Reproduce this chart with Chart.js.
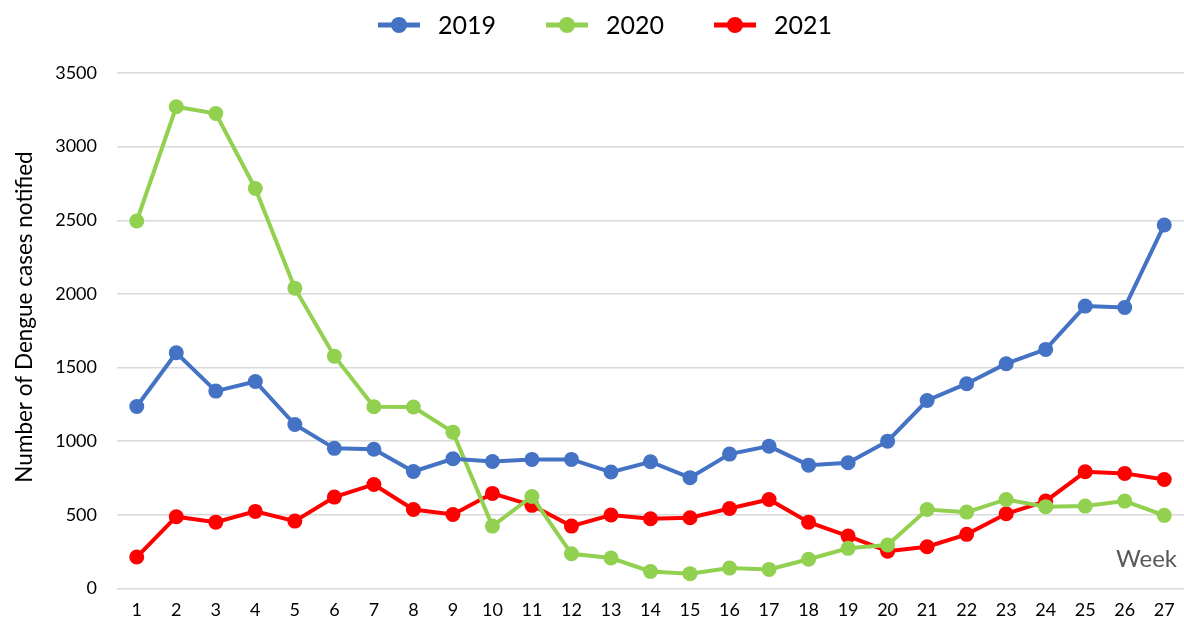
<!DOCTYPE html>
<html>
<head>
<meta charset="utf-8">
<script src="https://cdn.jsdelivr.net/npm/chart.js@4"></script>
<style>
  html, body { margin: 0; padding: 0; background: #fff; }
  #wrap { width: 1184px; height: 624px; }
</style>
</head>
<body>
<div id="wrap"><canvas id="chart"></canvas></div>
<script>
// Weeks on the x axis
const weeks = ['1','2','3','4','5','6','7','8','9','10','11','12','13','14','15','16','17','18','19','20','21','22','23','24','25','26','27'];

// Dengue cases notified per week
const cases2019 = [1235, 1600, 1340, 1405, 1113, 951, 945, 794, 880, 862, 876, 876, 790, 860, 752, 912, 966, 837, 853, 1000, 1276, 1390, 1526, 1623, 1917, 1908, 2468];
const cases2020 = [2495, 3271, 3225, 2716, 2039, 1577, 1234, 1232, 1061, 423, 624, 235, 206, 115, 100, 138, 129, 198, 272, 295, 536, 518, 604, 555, 559, 593, 496];
const cases2021 = [213, 487, 450, 523, 457, 620, 706, 536, 502, 645, 564, 423, 498, 473, 480, 543, 604, 450, 355, 253, 283, 367, 507, 593, 792, 781, 740];

const yTicks = [0, 500, 1000, 1500, 2000, 2500, 3000, 3500];

const colors = { y2019: '#4472C4', y2020: '#92D050', y2021: '#FF0000' };
const fontFamily = 'Lato, "Open Sans", sans-serif';

// legend on top: short line with a dot, then the year
const topLegend = {
  id: 'topLegend',
  afterDraw(chart) {
    const { ctx } = chart;
    const sets = chart.data.datasets;
    const lineW = 42, gap = 18, itemGap = 50, y = 25;
    ctx.save();
    ctx.font = '25px ' + fontFamily;
    const widths = sets.map(ds => ctx.measureText(ds.label).width);
    const total = widths.reduce((a, w) => a + lineW + gap + w, 0) + itemGap * (sets.length - 1);
    let x = 605 - total / 2;
    sets.forEach((ds, i) => {
      ctx.strokeStyle = ds.borderColor;
      ctx.fillStyle = ds.borderColor;
      ctx.lineWidth = 5;
      ctx.beginPath();
      ctx.moveTo(x, y); ctx.lineTo(x + lineW, y);
      ctx.stroke();
      ctx.beginPath();
      ctx.arc(x + lineW / 2, y, 8, 0, Math.PI * 2);
      ctx.fill();
      ctx.fillStyle = '#000';
      ctx.textBaseline = 'middle';
      ctx.fillText(ds.label, x + lineW + gap, y + 1);
      x += lineW + gap + widths[i] + itemGap;
    });
    ctx.restore();
  }
};

// y title (sits a bit above the plot centre) and "Week" inside the plot
const extraText = {
  id: 'extraText',
  afterDraw(chart) {
    const { ctx, chartArea } = chart;
    ctx.save();
    ctx.font = '24px ' + fontFamily;
    ctx.fillStyle = '#595959';
    ctx.textAlign = 'right';
    ctx.textBaseline = 'middle';
    ctx.fillText('Week', chartArea.right - 7, chart.scales.y.getPixelForValue(197));

    ctx.translate(32, 317);
    ctx.rotate(-Math.PI / 2);
    ctx.font = '22.5px ' + fontFamily;
    ctx.fillStyle = '#000';
    ctx.textAlign = 'center';
    ctx.textBaseline = 'alphabetic';
    ctx.fillText('Number of Dengue cases notified', 0, 0);
    ctx.restore();
  }
};

const series = [
  { label: '2019', data: cases2019, color: colors.y2019 },
  { label: '2020', data: cases2020, color: colors.y2020 },
  { label: '2021', data: cases2021, color: colors.y2021 },
];

new Chart(document.getElementById('chart'), {
  type: 'line',
  data: {
    labels: weeks,
    datasets: series.map(s => ({
      label: s.label,
      data: s.data,
      borderColor: s.color,
      backgroundColor: s.color,
      borderWidth: 4,
      pointRadius: 7.5,
      pointHoverRadius: 7.5,
      pointBorderWidth: 0,
      tension: 0,
    })),
  },
  options: {
    responsive: true,
    maintainAspectRatio: false,
    animation: false,
    layout: { autoPadding: false, padding: { left: 0, right: 0, top: 73, bottom: 0 } },
    plugins: {
      legend: { display: false },
      tooltip: { enabled: false },
    },
    scales: {
      x: {
        offset: true,
        grid: { display: false },
        border: { display: false },
        ticks: { color: '#000', font: { size: 18, family: fontFamily }, maxRotation: 0, padding: 3 },
      },
      y: {
        min: 0,
        max: 3500,
        afterBuildTicks: axis => { axis.ticks = yTicks.map(v => ({ value: v })); },
        afterFit: axis => { axis.width = 117; },
        grid: { color: '#d9d9d9', lineWidth: 1.5, drawTicks: false },
        border: { display: false },
        ticks: { color: '#000', font: { size: 18, family: fontFamily }, padding: 20, callback: v => String(v) },
      },
    },
  },
  plugins: [extraText, topLegend],
});
</script>
</body>
</html>
